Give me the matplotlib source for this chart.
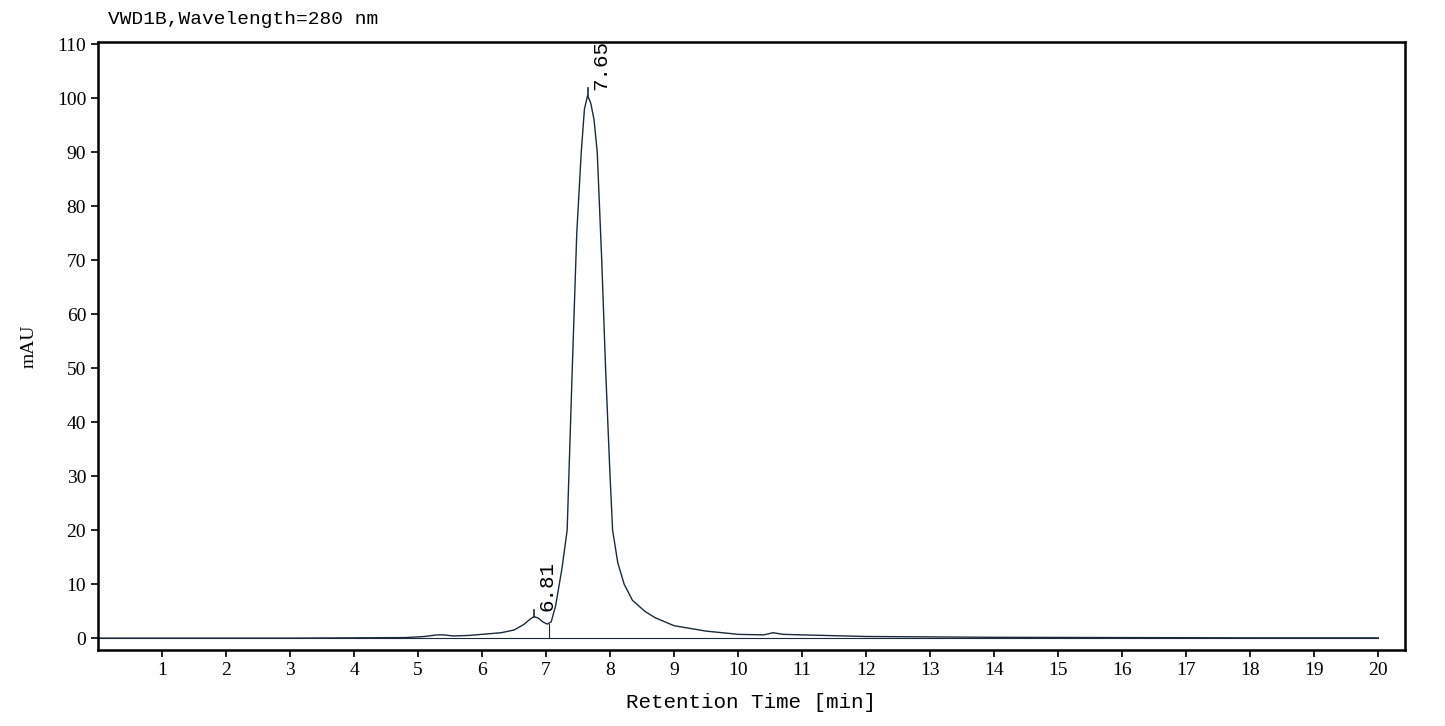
import matplotlib
matplotlib.use("Agg")
import matplotlib.pyplot as plt
import numpy as np

time = [0, 1, 2, 3, 4, 4.8, 5.1, 5.3, 5.4, 5.55, 5.8, 6.0, 6.3, 6.5, 6.65, 6.75, 6.81, 6.88, 6.95, 7.02,
        7.08, 7.15, 7.25, 7.33, 7.41, 7.48, 7.55, 7.6, 7.65, 7.7, 7.75, 7.8, 7.87, 7.93, 8.0, 8.04, 8.12,
        8.22, 8.35, 8.54, 8.7, 9.0, 9.5, 10.0, 10.4, 10.55, 10.7, 11.0, 11.5, 12.0, 14, 16, 18, 20]
signal = [0, 0, 0, 0, 0.05, 0.1, 0.3, 0.6, 0.6, 0.4, 0.5, 0.7, 1.0, 1.5, 2.5, 3.5, 4.0, 3.7, 3.0, 2.6,
          3.0, 6, 13, 20, 50, 75, 90, 98, 100.5, 99, 96, 90, 70, 50, 30, 20, 14,
          10, 7, 5, 3.8, 2.3, 1.3, 0.7, 0.6, 1.0, 0.7, 0.6, 0.45, 0.3, 0.15, 0.1, 0.05, 0.05]
peak_times = [6.81, 7.65]
peak_heights = [4.0, 100.5]
x_ticks = list(range(1, 21))
y_ticks = list(range(0, 111, 10))

fig = plt.figure(figsize=(14.45, 7.26), dpi=100)
ax = fig.add_axes([98/1445, 1-650/726, (1405-98)/1445, (650-42)/726])
ax.plot(time, signal, color="#1a2a3a", lw=1.0)
ax.plot([0, 20], [0, 0], color="#1a2a3a", lw=0.8)
ax.plot([7.05, 7.05], [0, 2.6], color="#1a2a3a", lw=0.8)
for t, h in zip(peak_times, peak_heights):
    ax.plot([t, t], [h, h + 1.3], color="#1a2a3a", lw=1.2)
    ax.text(t + 0.2, h + 1.0, f"{t:.2f}", rotation=90, ha="center", va="bottom",
            fontsize=15, family="Liberation Mono")
ax.set_xlim(0, 20.42)
ax.set_ylim(-2.2, 110.4)
ax.set_xticks(x_ticks)
ax.set_yticks(y_ticks)
for s in ax.spines.values():
    s.set_linewidth(1.8)
ax.tick_params(direction="out", length=5, width=1.2, labelsize=14)
for lbl in ax.get_xticklabels() + ax.get_yticklabels():
    lbl.set_family("Liberation Serif")
ax.set_xlabel("Retention Time [min]", fontsize=15, family="Liberation Mono", labelpad=10)
ax.set_ylabel("mAU", fontsize=14, family="Liberation Serif", labelpad=14)
fig.text(108/1445, 1-19/726, "VWD1B,Wavelength=280 nm", fontsize=14, family="Liberation Mono",
         va="center")
fig.savefig("out.png", dpi=100)
